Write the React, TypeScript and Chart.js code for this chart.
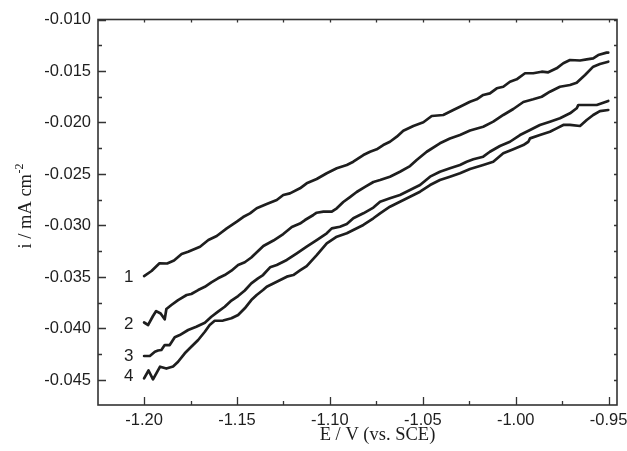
import React, { useEffect, useRef } from "react";
import { Chart, registerables } from "chart.js";

Chart.register(...registerables);

// ---- Data (E in V vs. SCE, i in mA cm^-2) ----
const curve1E = [-1.2000, -1.1960, -1.1917, -1.1876, -1.1839, -1.1798, -1.1763, -1.1699, -1.1654, -1.1609, -1.1555, -1.1501, -1.1467, -1.1430, -1.1394, -1.1340, -1.1286, -1.1251, -1.1215, -1.1161, -1.1125, -1.1071, -1.1017, -1.0963, -1.0909, -1.0874, -1.0820, -1.0784, -1.0748, -1.0713, -1.0677, -1.0640, -1.0605, -1.0551, -1.0497, -1.0452, -1.0390, -1.0336, -1.0300, -1.0246, -1.0210, -1.0175, -1.0139, -1.0102, -1.0067, -1.0031, -0.9995, -0.9950, -0.9906, -0.9860, -0.9825, -0.9780, -0.9744, -0.9708, -0.9654, -0.9618, -0.9583, -0.9556, -0.9511, -0.9502];
const curve1I = [-0.03491, -0.03442, -0.03367, -0.03369, -0.03340, -0.03277, -0.03255, -0.03206, -0.03141, -0.03102, -0.03028, -0.02963, -0.02918, -0.02882, -0.02833, -0.02792, -0.02753, -0.02704, -0.02688, -0.02639, -0.02591, -0.02549, -0.02493, -0.02445, -0.02413, -0.02381, -0.02316, -0.02284, -0.02260, -0.02219, -0.02187, -0.02138, -0.02080, -0.02034, -0.01998, -0.01937, -0.01927, -0.01879, -0.01847, -0.01798, -0.01775, -0.01733, -0.01717, -0.01668, -0.01653, -0.01604, -0.01581, -0.01522, -0.01522, -0.01507, -0.01513, -0.01474, -0.01425, -0.01393, -0.01398, -0.01387, -0.01377, -0.01345, -0.01322, -0.01321];

const curve2E = [-1.2000, -1.1978, -1.1952, -1.1935, -1.1911, -1.1889, -1.1880, -1.1853, -1.1817, -1.1771, -1.1746, -1.1709, -1.1673, -1.1638, -1.1602, -1.1566, -1.1530, -1.1494, -1.1458, -1.1423, -1.1392, -1.1358, -1.1304, -1.1251, -1.1205, -1.1161, -1.1134, -1.1089, -1.1071, -1.1035, -1.0990, -1.0963, -1.0928, -1.0892, -1.0856, -1.0811, -1.0766, -1.0730, -1.0677, -1.0623, -1.0569, -1.0533, -1.0479, -1.0408, -1.0354, -1.0300, -1.0246, -1.0175, -1.0121, -1.0067, -1.0013, -0.9959, -0.9906, -0.9860, -0.9816, -0.9762, -0.9708, -0.9672, -0.9627, -0.9583, -0.9547, -0.9502];
const curve2I = [-0.03942, -0.03966, -0.03879, -0.03831, -0.03855, -0.03911, -0.03811, -0.03772, -0.03724, -0.03675, -0.03665, -0.03627, -0.03595, -0.03552, -0.03513, -0.03481, -0.03439, -0.03384, -0.03357, -0.03311, -0.03258, -0.03199, -0.03146, -0.03083, -0.03015, -0.02981, -0.02947, -0.02898, -0.02876, -0.02866, -0.02866, -0.02833, -0.02772, -0.02724, -0.02675, -0.02626, -0.02578, -0.02559, -0.02526, -0.02478, -0.02423, -0.02364, -0.02284, -0.02202, -0.02156, -0.02122, -0.02078, -0.02041, -0.01992, -0.01927, -0.01869, -0.01801, -0.01775, -0.01750, -0.01701, -0.01653, -0.01636, -0.01614, -0.01539, -0.01458, -0.01432, -0.01410];

const curve3E = [-1.2000, -1.1969, -1.1942, -1.1925, -1.1907, -1.1889, -1.1862, -1.1835, -1.1808, -1.1763, -1.1719, -1.1673, -1.1638, -1.1602, -1.1566, -1.1530, -1.1494, -1.1458, -1.1423, -1.1387, -1.1360, -1.1322, -1.1286, -1.1232, -1.1178, -1.1125, -1.1071, -1.1017, -1.0990, -1.0946, -1.0909, -1.0874, -1.0820, -1.0766, -1.0730, -1.0677, -1.0623, -1.0569, -1.0515, -1.0461, -1.0408, -1.0354, -1.0300, -1.0264, -1.0228, -1.0175, -1.0139, -1.0085, -1.0031, -0.9977, -0.9923, -0.9870, -0.9816, -0.9762, -0.9708, -0.9672, -0.9663, -0.9618, -0.9564, -0.9529, -0.9502];
const curve3I = [-0.04267, -0.04267, -0.04226, -0.04214, -0.04209, -0.04161, -0.04161, -0.04086, -0.04064, -0.04015, -0.03983, -0.03944, -0.03886, -0.03837, -0.03789, -0.03729, -0.03685, -0.03631, -0.03562, -0.03513, -0.03481, -0.03406, -0.03384, -0.03335, -0.03270, -0.03206, -0.03141, -0.03076, -0.03028, -0.03012, -0.02986, -0.02930, -0.02882, -0.02826, -0.02769, -0.02736, -0.02704, -0.02656, -0.02607, -0.02526, -0.02478, -0.02445, -0.02413, -0.02381, -0.02357, -0.02332, -0.02284, -0.02228, -0.02187, -0.02122, -0.02073, -0.02024, -0.01992, -0.01959, -0.01911, -0.01862, -0.01830, -0.01830, -0.01830, -0.01808, -0.01791];

const curve4E = [-1.2000, -1.1976, -1.1952, -1.1914, -1.1880, -1.1844, -1.1817, -1.1781, -1.1746, -1.1709, -1.1673, -1.1647, -1.1620, -1.1575, -1.1530, -1.1494, -1.1458, -1.1423, -1.1394, -1.1360, -1.1340, -1.1286, -1.1232, -1.1197, -1.1161, -1.1125, -1.1071, -1.1017, -1.0963, -1.0909, -1.0874, -1.0820, -1.0766, -1.0730, -1.0677, -1.0623, -1.0569, -1.0515, -1.0461, -1.0408, -1.0354, -1.0300, -1.0246, -1.0175, -1.0121, -1.0067, -1.0013, -0.9959, -0.9932, -0.9923, -0.9870, -0.9816, -0.9780, -0.9744, -0.9708, -0.9654, -0.9618, -0.9583, -0.9547, -0.9502];
const curve4I = [-0.04484, -0.04408, -0.04494, -0.04371, -0.04389, -0.04369, -0.04323, -0.04241, -0.04177, -0.04112, -0.04032, -0.03966, -0.03925, -0.03923, -0.03901, -0.03869, -0.03804, -0.03724, -0.03675, -0.03627, -0.03595, -0.03546, -0.03497, -0.03481, -0.03437, -0.03394, -0.03287, -0.03173, -0.03109, -0.03076, -0.03044, -0.02995, -0.02930, -0.02882, -0.02818, -0.02769, -0.02721, -0.02672, -0.02607, -0.02559, -0.02526, -0.02493, -0.02452, -0.02413, -0.02381, -0.02299, -0.02260, -0.02219, -0.02187, -0.02154, -0.02122, -0.02090, -0.02057, -0.02024, -0.02024, -0.02034, -0.01976, -0.01927, -0.01889, -0.01879];

const curveLabels = ["1", "2", "3", "4"];
const labelE = [-1.2083, -1.2083, -1.2083, -1.2083];
const labelI = [-0.03508, -0.03957, -0.04266, -0.04462];

const xTickValues = [-1.2, -1.15, -1.1, -1.05, -1.0, -0.95];
const xMinorValues = [-1.175, -1.125, -1.075, -1.025, -0.975];
const yTickValues = [-0.045, -0.04, -0.035, -0.03, -0.025, -0.02, -0.015, -0.01];
const yMinorValues = [-0.0425, -0.0375, -0.0325, -0.0275, -0.0225, -0.0175, -0.0125];

const xTitle = "E / V (vs. SCE)";
const yTitleMain = "i / mA cm";
const yTitleSup = "-2";

const X_MIN = -1.2248;
const X_MAX = -0.9455;
const Y_MIN = -0.04743;
const Y_MAX = -0.01;

const INK = "#1e1e1e";
const SANS = "'Liberation Sans', Arial, Helvetica, sans-serif";
const SERIF = "'Liberation Serif', 'Times New Roman', serif";

const decorPlugin = {
  id: "decor",
  afterDraw(chart: any) {
    const { ctx, chartArea: a, scales } = chart;
    const xs = scales.x;
    const ys = scales.y;
    ctx.save();
    ctx.strokeStyle = "#333";
    ctx.lineWidth = 1.6;
    ctx.strokeRect(a.left, a.top, a.right - a.left, a.bottom - a.top);
    ctx.lineWidth = 1.3;
    ctx.beginPath();
    const majX = 8, minX = 4, small = 3;
    xTickValues.forEach((v) => {
      const px = Math.round(xs.getPixelForValue(v)) + 0.5;
      ctx.moveTo(px, a.bottom); ctx.lineTo(px, a.bottom - majX);
      ctx.moveTo(px, a.top); ctx.lineTo(px, a.top + small);
    });
    xMinorValues.forEach((v) => {
      const px = Math.round(xs.getPixelForValue(v)) + 0.5;
      ctx.moveTo(px, a.bottom); ctx.lineTo(px, a.bottom - minX);
      ctx.moveTo(px, a.top); ctx.lineTo(px, a.top + small);
    });
    yTickValues.forEach((v) => {
      const py = Math.round(ys.getPixelForValue(v)) + 0.5;
      ctx.moveTo(a.left, py); ctx.lineTo(a.left + majX, py);
      ctx.moveTo(a.right, py); ctx.lineTo(a.right - small, py);
    });
    yMinorValues.forEach((v) => {
      const py = Math.round(ys.getPixelForValue(v)) + 0.5;
      ctx.moveTo(a.left, py); ctx.lineTo(a.left + minX, py);
      ctx.moveTo(a.right, py); ctx.lineTo(a.right - small, py);
    });
    ctx.stroke();

    // curve labels
    ctx.fillStyle = INK;
    ctx.font = `17px ${SANS}`;
    ctx.textAlign = "center";
    ctx.textBaseline = "middle";
    curveLabels.forEach((t, i) => {
      ctx.fillText(t, xs.getPixelForValue(labelE[i]), ys.getPixelForValue(labelI[i]));
    });

    // x title
    ctx.font = `18.5px ${SERIF}`;
    ctx.textBaseline = "alphabetic";
    ctx.textAlign = "center";
    ctx.fillText(xTitle, (a.left + a.right) / 2 + 20, 440);

    // y title with superscript
    ctx.translate(31, (a.top + a.bottom) / 2 - 6);
    ctx.rotate(-Math.PI / 2);
    ctx.font = `18.5px ${SERIF}`;
    const wMain = ctx.measureText(yTitleMain).width;
    ctx.font = `12px ${SERIF}`;
    const wSup = ctx.measureText(yTitleSup).width;
    const start = -(wMain + wSup) / 2;
    ctx.textAlign = "left";
    ctx.font = `18.5px ${SERIF}`;
    ctx.fillText(yTitleMain, start, 0);
    ctx.font = `12px ${SERIF}`;
    ctx.fillText(yTitleSup, start + wMain + 0.5, -8.5);
    ctx.restore();
  },
};

export default function App() {
  const canvasRef = useRef<HTMLCanvasElement | null>(null);

  useEffect(() => {
    if (!canvasRef.current) return;
    const mk = (E: number[], I: number[]) => E.map((e, i) => ({ x: e, y: I[i] }));
    const datasets = [
      { label: "1", data: mk(curve1E, curve1I) },
      { label: "2", data: mk(curve2E, curve2I) },
      { label: "3", data: mk(curve3E, curve3I) },
      { label: "4", data: mk(curve4E, curve4I) },
    ].map((d) => ({
      ...d,
      borderColor: INK,
      borderWidth: 2.7,
      pointRadius: 0,
      tension: 0,
      fill: false,
      borderJoinStyle: "round" as const,
      borderCapStyle: "round" as const,
    }));

    const chart = new Chart(canvasRef.current, {
      type: "line",
      data: { datasets },
      options: {
        animation: false,
        responsive: false,
        devicePixelRatio: 1,
        layout: { padding: { left: 0, top: 19.5, right: 10, bottom: 0 } },
        plugins: { legend: { display: false }, tooltip: { enabled: false } },
        scales: {
          x: {
            type: "linear",
            min: X_MIN,
            max: X_MAX,
            grid: { display: false, drawTicks: false, tickLength: 0 },
            border: { display: false },
            ticks: {
              autoSkip: false,
              maxRotation: 0,
              padding: 6,
              color: INK,
              font: { family: SANS, size: 16.5 },
              callback: (v: any) => Number(v).toFixed(2),
            },
            afterBuildTicks: (s: any) => {
              s.ticks = xTickValues.map((v) => ({ value: v }));
            },
            afterFit: (s: any) => {
              s.height = 46;
              s.paddingLeft = 0;
              s.paddingRight = 0;
            },
          },
          y: {
            type: "linear",
            min: Y_MIN,
            max: Y_MAX,
            grid: { display: false, drawTicks: false, tickLength: 0 },
            border: { display: false },
            ticks: {
              autoSkip: false,
              padding: 7,
              color: INK,
              font: { family: SANS, size: 16.5 },
              callback: (v: any) => Number(v).toFixed(3),
            },
            afterBuildTicks: (s: any) => {
              s.ticks = yTickValues.map((v) => ({ value: v }));
            },
            afterFit: (s: any) => {
              s.width = 98;
              s.paddingTop = 0;
              s.paddingBottom = 0;
            },
          },
        },
      },
      plugins: [decorPlugin],
    });
    return () => chart.destroy();
  }, []);

  return (
    <div style={{ position: "absolute", left: 0, top: 0, width: 627, height: 451, background: "#fff" }}>
      <canvas ref={canvasRef} width={627} height={451} style={{ display: "block", width: 627, height: 451 }} />
    </div>
  );
}
